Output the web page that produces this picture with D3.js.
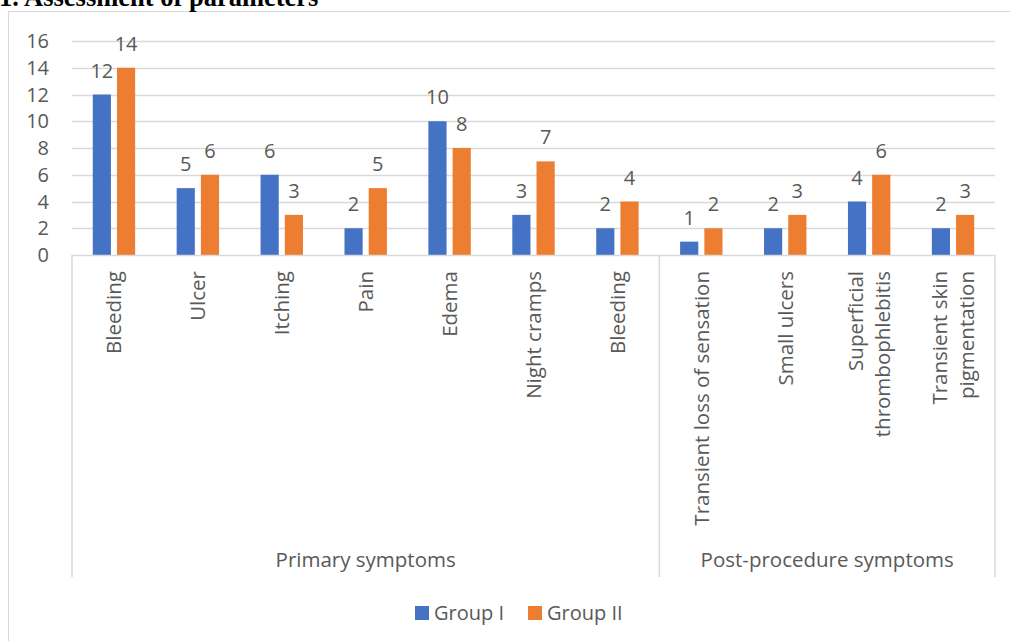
<!DOCTYPE html>
<html><head><meta charset="utf-8">
<script src="https://cdn.jsdelivr.net/npm/d3@7"></script>
<style>
html,body{margin:0;padding:0;background:#fff;overflow:hidden}
svg{display:block}
text{font-family:"Open Sans",sans-serif;fill:#595959}
</style></head>
<body>
<svg id="c" width="1010" height="641"></svg>
<script>
const categories = [
  ["Bleeding"], ["Ulcer"], ["Itching"], ["Pain"], ["Edema"], ["Night cramps"], ["Bleeding"],
  ["Transient loss of sensation"], ["Small ulcers"], ["Superficial", "thrombophlebitis"], ["Transient skin", "pigmentation"]
];
const groupNames = ["Primary symptoms", "Post-procedure symptoms"];
const groupSizes = [7, 4];
const seriesNames = ["Group I", "Group II"];
const group1 = [12, 5, 6, 2, 10, 3, 2, 1, 2, 4, 2];
const group2 = [14, 6, 3, 5, 8, 7, 4, 2, 3, 6, 3];
const yTicks = [0, 2, 4, 6, 8, 10, 12, 14, 16];
const colors = ["#4472C4", "#ED7D31"];
const titleText = "1. Assessment of parameters";

const svg = d3.select("#c");
const L = 72, R = 995, T = 41, B = 255;
const grid = "#d9d9d9";

// outer chart border
svg.append("line").attr("x1", 8.5).attr("x2", 8.5).attr("y1", 11.5).attr("y2", 641).attr("stroke", grid);
svg.append("line").attr("x1", 8).attr("x2", 1010).attr("y1", 11.5).attr("y2", 11.5).attr("stroke", grid);

// title (partially cut off at the top, as in the reference)
svg.append("text").attr("x", -1).attr("y", 6).text(titleText)
  .style("font-family", "'Liberation Serif',serif").style("font-weight", "bold")
  .style("font-size", "26.5px").style("fill", "#000");

const idx = d3.range(categories.length);
const x = d3.scaleBand().domain(idx).range([L, R]).padding(0);
const y = d3.scaleLinear().domain([0, 16]).range([B, T]);
const xs = d3.scaleBand().domain(seriesNames).range([-21.2, 21.2]).paddingInner(0.25);

// gridlines
svg.append("g").selectAll("line").data(yTicks.filter(d => d > 0)).join("line")
  .attr("x1", L).attr("x2", R).attr("y1", d => Math.round(y(d)) + 0.5).attr("y2", d => Math.round(y(d)) + 0.5)
  .attr("stroke", grid).attr("stroke-width", 1.3);

// y tick labels
svg.append("g").selectAll("text").data(yTicks).join("text")
  .attr("x", 49).attr("y", d => y(d)).attr("dy", "0.36em").attr("text-anchor", "end")
  .style("font-size", "20px").text(d => d);

// bars
const series = [group1, group2];
series.forEach((vals, si) => {
  const g = svg.append("g");
  g.selectAll("rect").data(vals).join("rect")
    .attr("x", (d, i) => x(i) + x.bandwidth() / 2 + xs(seriesNames[si]))
    .attr("width", xs.bandwidth())
    .attr("y", d => y(d)).attr("height", d => y(0) - y(d))
    .attr("fill", colors[si]);
  g.selectAll("text").data(vals).join("text")
    .attr("x", (d, i) => x(i) + x.bandwidth() / 2 + xs(seriesNames[si]) + xs.bandwidth() / 2)
    .attr("y", d => y(d) - 17).attr("text-anchor", "middle")
    .style("font-size", "20px").text(d => d);
});

// axis line
svg.append("line").attr("x1", L).attr("x2", R).attr("y1", B + 0.5).attr("y2", B + 0.5).attr("stroke", grid).attr("stroke-width", 1.5);

// group separators
const bottom = 577;
let acc = 0;
const bounds = [0];
groupSizes.forEach(s => { acc += s; bounds.push(acc); });
const bx = d => d === categories.length ? R : x(d);
svg.append("g").selectAll("line").data(bounds).join("line")
  .attr("x1", bx).attr("x2", bx)
  .attr("y1", B).attr("y2", bottom).attr("stroke", grid).attr("stroke-width", 1.5);

// category labels (rotated)
const cl = svg.append("g");
idx.forEach(i => {
  const lines = categories[i];
  const cx = x(i) + x.bandwidth() / 2;
  const sp = 27;
  lines.forEach((ln, k) => {
    const off = (k - (lines.length - 1) / 2) * sp;
    cl.append("text")
      .attr("transform", `translate(${cx + off},${271}) rotate(-90)`)
      .attr("text-anchor", "end").attr("dy", "0.36em")
      .style("font-size", "20.5px").text(ln);
  });
});

// group labels
svg.append("g").selectAll("text").data(groupNames).join("text")
  .attr("x", (d, i) => (bx(bounds[i]) + bx(bounds[i + 1])) / 2)
  .attr("y", 567).attr("text-anchor", "middle").style("font-size", "20.5px").text(d => d);

// legend
const lg = svg.append("g");
const legX = [415, 528];
seriesNames.forEach((n, i) => {
  lg.append("rect").attr("x", legX[i]).attr("y", 606).attr("width", 14).attr("height", 14).attr("fill", colors[i]);
  lg.append("text").attr("x", legX[i] + 19).attr("y", 620).style("font-size", "20px").text(n);
});
</script>
</body></html>
